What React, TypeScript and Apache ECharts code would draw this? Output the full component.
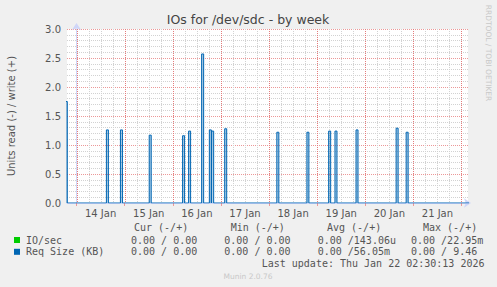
import React, { useEffect, useRef } from "react";
import * as echarts from "echarts";

// ---- data ----
const dayLabels = ["14 Jan", "15 Jan", "16 Jan", "17 Jan", "18 Jan", "19 Jan", "20 Jan", "21 Jan"];
// spike times, hours after 14 Jan 00:00
const spikeHours = [-5.1, 15.4, 22.4, 36.75, 53.4, 56.4, 62.9, 66.75, 67.9, 74.4, 100.4, 115.4, 126.25, 129.4, 139.9, 159.9, 164.9];
const reqSizeValues = [1.75, 1.26, 1.26, 1.17, 1.16, 1.24, 2.57, 1.26, 1.24, 1.28, 1.22, 1.22, 1.24, 1.24, 1.26, 1.29, 1.22];
const yTicks = [0, 0.5, 1, 1.5, 2, 2.5, 3];
const legendHeaders = ["Cur (-/+)", "Min (-/+)", "Avg (-/+)", "Max (-/+)"];
const legendNames = ["IO/sec", "Req Size (KB)"];
const ioValues = ["0.00 / 0.00", "0.00 / 0.00", "0.00 /143.06u", "0.00 /22.95m"];
const reqValues = ["0.00 / 0.00", "0.00 / 0.00", "0.00 /56.05m", "0.00 / 9.46"];
const seriesColors = ["#00CC00", "#0066B3"];

const X_MIN = -4.75;
const X_MAX = 195.25;
const MAJOR = "#ec9898";
const MAJOR_V = "#e47c7c";
const MINOR = "#d2d2d2";

function gridSeries(values: number[], color: string, z: number) {
  return {
    type: "custom",
    coordinateSystem: "cartesian2d",
    data: values.map((h) => [h, 0]),
    encode: { x: 0, y: 1 },
    z,
    silent: true,
    renderItem: (params: any, api: any) => {
      const h = api.value(0);
      const p0 = api.coord([h, 0]);
      const p1 = api.coord([h, 3]);
      const x = Math.round(p0[0]) + 0.5;
      return {
        type: "line",
        shape: { x1: x, y1: Math.round(p1[1]), x2: x, y2: Math.round(p0[1]) },
        style: { stroke: color, lineWidth: 1, lineDash: [1, 1] },
      };
    },
  };
}

export default function App() {
  const ref = useRef<HTMLDivElement>(null);
  useEffect(() => {
    if (!ref.current) return;
    const chart = echarts.init(ref.current, undefined, { renderer: "svg" });

    const pts: number[][] = [[X_MIN - 1, 0]];
    spikeHours.forEach((h, i) => {
      const v = reqSizeValues[i];
      pts.push([h - 0.5, 0], [h - 0.5, v], [h + 0.5, v], [h + 0.5, 0]);
    });
    pts.push([X_MAX + 1, 0]);

    const minorLines: number[] = [];
    const dayLines: number[] = [];
    for (let h = 0; h <= X_MAX; h += 6) {
      if (h % 24 === 0) dayLines.push(h);
      else minorLines.push(h);
    }
    const labelPos = dayLabels.map((_, i) => 12 + 24 * i);

    const mono = "10px 'DejaVu Sans Mono'";
    const fg = "#555555";
    const colStartsV = [131, 224.3, 317.7, 411];
    const colStartsH = [134, 230.7, 327, 423];
    const graphics: any[] = [
      { type: "text", x: 248, y: 19, style: { text: "IOs for /dev/sdc - by week", font: "12.5px 'DejaVu Sans'", fill: "#444", textAlign: "center", textVerticalAlign: "middle" } },
      { type: "text", x: 11, y: 116, rotation: Math.PI / 2, style: { text: "Units read (-) / write (+)", font: "10px 'DejaVu Sans'", fill: fg, textAlign: "center", textVerticalAlign: "middle" } },
      { type: "text", x: 488.5, y: 53, rotation: -Math.PI / 2, style: { text: "RRDTOOL / TOBI OETIKER", font: "7.5px 'DejaVu Sans'", fill: "#c8c8c8", textAlign: "center", textVerticalAlign: "middle" } },
      { type: "text", x: 248, y: 276, style: { text: "Munin 2.0.76", font: "7.5px 'DejaVu Sans'", fill: "#c8c8c8", textAlign: "center", textVerticalAlign: "middle" } },
      { type: "text", x: 261.7, y: 263.5, style: { text: "Last update: Thu Jan 22 02:30:13 2026", font: mono, fill: fg, textAlign: "left", textVerticalAlign: "middle" } },
    ];
    legendHeaders.forEach((t, i) => {
      graphics.push({ type: "text", x: colStartsH[i], y: 227, style: { text: t, font: mono, fill: fg, textAlign: "left", textVerticalAlign: "middle" } });
    });
    legendNames.forEach((n, r) => {
      const y = 240 + r * 11.8;
      graphics.push({ type: "rect", shape: { x: 14, y: y - 3, width: 6, height: 6 }, style: { fill: seriesColors[r] } });
      graphics.push({ type: "text", x: 26, y, style: { text: n, font: mono, fill: fg, textAlign: "left", textVerticalAlign: "middle" } });
      const vals = r === 0 ? ioValues : reqValues;
      vals.forEach((v, i) => {
        graphics.push({ type: "text", x: colStartsV[i], y, style: { text: v, font: mono, fill: fg, textAlign: "left", textVerticalAlign: "middle" } });
      });
    });

    chart.setOption({
      animation: false,
      backgroundColor: "#F0F0F0",
      textStyle: { fontFamily: "'DejaVu Sans'" },
      grid: { left: 67, top: 29, width: 401, height: 174, show: true, backgroundColor: "#FFFFFF", borderWidth: 0 },
      xAxis: {
        type: "value",
        min: X_MIN,
        max: X_MAX,
        splitLine: { show: false },
        axisLine: { show: true, lineStyle: { color: "#CFD6F8", width: 1 }, symbol: ["none", "arrow"], symbolSize: [7, 7], symbolOffset: [0, 3] },
        axisTick: { show: true, customValues: dayLines, length: 3, lineStyle: { color: MAJOR } },
        axisLabel: {
          customValues: labelPos,
          color: "#555",
          fontSize: 10,
          fontFamily: "'DejaVu Sans'",
          margin: 5,
          formatter: (v: number) => dayLabels[Math.round((v - 12) / 24)] ?? "",
        },
      },
      yAxis: {
        type: "value",
        min: 0,
        max: 3,
        interval: 0.5,
        axisLine: { show: true, lineStyle: { color: "#CFD6F8", width: 1 }, symbol: ["none", "arrow"], symbolSize: [7, 7], symbolOffset: [0, 6] },
        axisTick: { show: false },
        axisLabel: { color: "#555", fontSize: 10, fontFamily: "'DejaVu Sans'", margin: 6, formatter: (v: number) => (yTicks.includes(v) ? v.toFixed(1) : "") },
        splitLine: { show: true, lineStyle: { color: MAJOR, type: [1, 1], width: 1 } },
        minorTick: { show: false, splitNumber: 5 },
        minorSplitLine: { show: true, lineStyle: { color: MINOR, type: [1, 1], width: 1 } },
      },
      graphic: graphics,
      series: [
        gridSeries(minorLines, MINOR, 1),
        gridSeries(dayLines, MAJOR_V, 2),
        {
          type: "line",
          name: "Req Size (KB)",
          data: pts,
          z: 3,
          symbol: "none",
          clip: true,
          lineStyle: { color: "#0066B3", width: 1 },
          areaStyle: { color: "rgba(0,102,179,0.45)" },
        },
      ],
    });
    return () => chart.dispose();
  }, []);
  return <div ref={ref} style={{ position: "fixed", left: 0, top: 0, width: 497, height: 287 }} />;
}
